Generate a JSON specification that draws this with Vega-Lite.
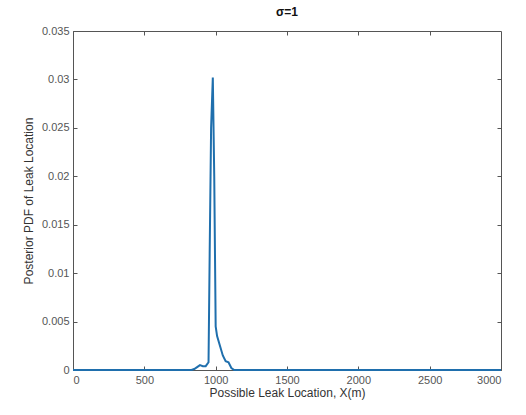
{
  "$schema": "https://vega.github.io/schema/vega-lite/v6.json",
  "autosize": "none",
  "width": 428,
  "height": 339,
  "padding": {"left": 73, "top": 31, "right": 25, "bottom": 45},
  "background": "white",
  "title": {"text": "σ=1", "fontSize": 12, "fontWeight": "bold", "font": "Liberation Sans", "color": "#111", "offset": 6, "anchor": "middle"},
  "config": {
    "view": {"stroke": "#555", "strokeWidth": 1},
    "axis": {"labelFont": "Liberation Sans", "titleFont": "Liberation Sans", "labelFontSize": 11, "titleFontSize": 12, "labelColor": "#555", "titleColor": "#333", "titleFontWeight": "normal", "grid": false, "domainColor": "#555", "tickColor": "#555", "tickSize": -4, "labelPadding": 8}
  },
  "data": {"values": [
    {"x": 0, "y": 0}, {"x": 500, "y": 0}, {"x": 830, "y": 0},
    {"x": 850, "y": 0.0001}, {"x": 870, "y": 0.0003}, {"x": 890, "y": 0.0005},
    {"x": 910, "y": 0.0004}, {"x": 930, "y": 0.0004}, {"x": 950, "y": 0.0008},
    {"x": 958, "y": 0.012}, {"x": 968, "y": 0.025}, {"x": 980, "y": 0.0302},
    {"x": 990, "y": 0.02}, {"x": 1000, "y": 0.0045}, {"x": 1010, "y": 0.0035},
    {"x": 1030, "y": 0.0025}, {"x": 1050, "y": 0.0015}, {"x": 1070, "y": 0.0009},
    {"x": 1090, "y": 0.0008}, {"x": 1110, "y": 0.0002}, {"x": 1130, "y": 0},
    {"x": 2000, "y": 0}, {"x": 3000, "y": 0}
  ]},
  "layer": [
    {
      "mark": {"type": "line", "color": "#1f6fad", "strokeWidth": 2},
      "encoding": {
        "x": {"field": "x", "type": "quantitative", "scale": {"domain": [0, 3000], "nice": false},
              "axis": {"title": "Possible Leak Location, X(m)", "values": [0, 500, 1000, 1500, 2000, 2500, 3000], "format": "d", "titlePadding": 2}},
        "y": {"field": "y", "type": "quantitative", "scale": {"domain": [0, 0.035], "nice": false},
              "axis": {"title": "Posterior PDF of Leak Location", "values": [0, 0.005, 0.01, 0.015, 0.02, 0.025, 0.03, 0.035], "format": "~g", "titlePadding": 6}}
      }
    },
    {
      "mark": {"type": "line", "opacity": 0},
      "encoding": {
        "x": {"field": "x", "type": "quantitative", "axis": {"orient": "top", "labels": false, "title": null, "domain": false, "tickSize": -4, "values": [500, 1000, 1500, 2000, 2500]}},
        "y": {"field": "y", "type": "quantitative", "axis": {"orient": "right", "labels": false, "title": null, "domain": false, "tickSize": -4, "values": [0.005, 0.01, 0.015, 0.02, 0.025, 0.03]}}
      }
    }
  ],
  "resolve": {"axis": {"x": "independent", "y": "independent"}}
}
